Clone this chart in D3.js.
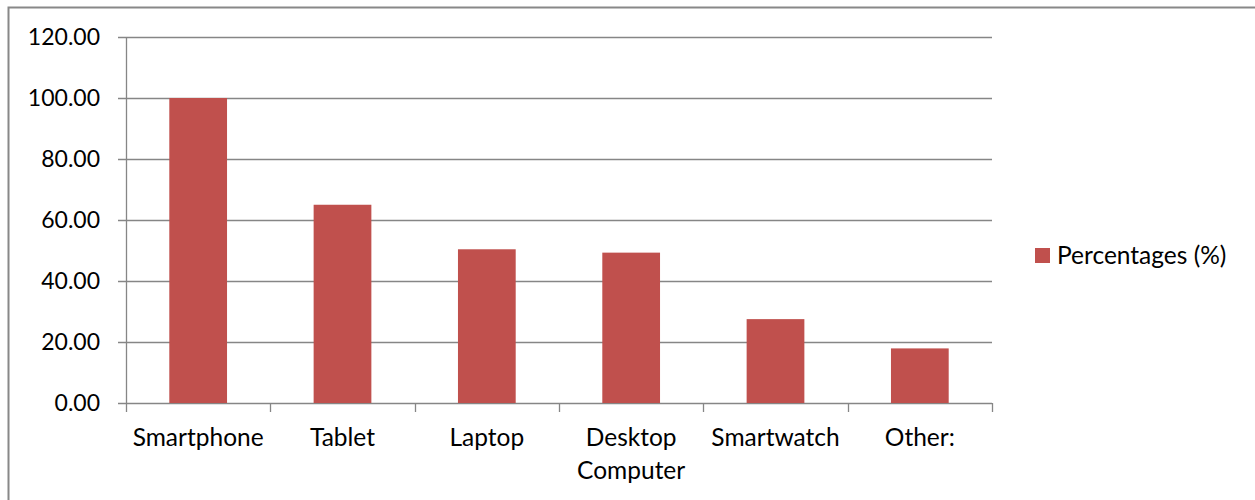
<!DOCTYPE html>
<html>
<head>
<meta charset="utf-8">
<script src="https://cdn.jsdelivr.net/npm/d3@7"></script>
<style>
  body { margin: 0; background: #fff; }
  svg text { font-family: Lato, "Open Sans", sans-serif; fill: #000; }
</style>
</head>
<body>
<svg id="chart" width="1255" height="500"></svg>
<script>
// ── data ──
const categories = ['Smartphone', 'Tablet', 'Laptop', 'Desktop Computer', 'Smartwatch', 'Other:'];
const percentages = [100, 65, 50.4, 49.3, 27.5, 17.9];
const yTicks = [0, 20, 40, 60, 80, 100, 120];
const seriesName = 'Percentages (%)';

const W = 1255, H = 500;
const plot = { left: 126, right: 992, top: 37, bottom: 403 };
const BAR = '#C0504D', GRID = '#868686';
const NUM_FS = 23, TXT_FS = 24.5;

const svg = d3.select('#chart');

// outer frame (only top + left edges are visible)
svg.append('path')
  .attr('d', `M8.5,${H} V7.5 H${W}`)
  .attr('fill', 'none').attr('stroke', '#888').attr('stroke-width', 2);

const x = d3.scaleBand().domain(categories).range([plot.left, plot.right]).paddingInner(0.6).paddingOuter(0.3);
const y = d3.scaleLinear().domain([0, 120]).range([plot.bottom, plot.top]);

// gridlines (with small tick stub left of the axis)
svg.append('g').selectAll('line').data(yTicks).enter().append('line')
  .attr('x1', plot.left - 8).attr('x2', plot.right)
  .attr('y1', d => Math.round(y(d)) + 0.5).attr('y2', d => Math.round(y(d)) + 0.5)
  .attr('stroke', GRID).attr('stroke-width', 1.3);

// y axis line
svg.append('line')
  .attr('x1', plot.left + 0.5).attr('x2', plot.left + 0.5)
  .attr('y1', plot.top).attr('y2', plot.bottom)
  .attr('stroke', GRID).attr('stroke-width', 1.3);

// y tick labels
svg.append('g').selectAll('text').data(yTicks).enter().append('text')
  .attr('x', 100).attr('y', d => y(d) + NUM_FS * 0.36)
  .attr('text-anchor', 'end')
  .attr('font-size', NUM_FS)
  .text(d => d3.format('.2f')(d));

// x category boundary ticks
const step = x.step();
const bounds = d3.range(categories.length + 1).map(i => plot.left + i * step);
svg.append('g').selectAll('line').data(bounds).enter().append('line')
  .attr('x1', d => Math.round(d) + 0.5).attr('x2', d => Math.round(d) + 0.5)
  .attr('y1', plot.bottom).attr('y2', plot.bottom + 9)
  .attr('stroke', GRID).attr('stroke-width', 1.3);

// bars
svg.append('g').selectAll('rect').data(categories).enter().append('rect')
  .attr('x', d => x(d)).attr('width', x.bandwidth())
  .attr('y', (d, i) => y(percentages[i]))
  .attr('height', (d, i) => y(0) - y(percentages[i]))
  .attr('fill', BAR);

// x labels (two-word "Desktop Computer" wraps)
const xl = svg.append('g').selectAll('text').data(categories).enter().append('text')
  .attr('x', d => x(d) + x.bandwidth() / 2).attr('y', 446)
  .attr('text-anchor', 'middle').attr('font-size', TXT_FS);
xl.each(function(d) {
  const words = d === 'Desktop Computer' ? d.split(' ') : [d];
  const t = d3.select(this);
  words.forEach((w, i) => {
    t.append('tspan').attr('x', x(d) + x.bandwidth() / 2).attr('dy', i === 0 ? 0 : 33).text(w);
  });
});

// legend
const lg = svg.append('g').attr('transform', 'translate(1035,248)');
lg.append('rect').attr('width', 15).attr('height', 15).attr('fill', BAR);
lg.append('text').attr('x', 22).attr('y', 15.5).attr('font-size', TXT_FS).text(seriesName);
</script>
</body>
</html>
